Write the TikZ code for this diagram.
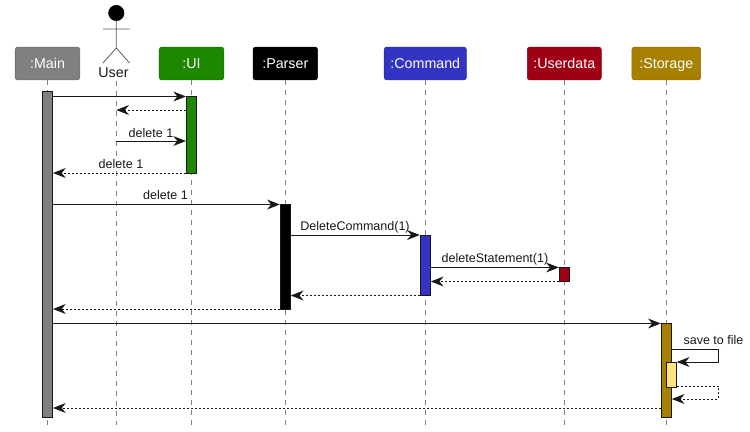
\documentclass[tikz,border=0pt]{standalone}
\usepackage{fontspec}
\setmainfont{Liberation Sans}
\usetikzlibrary{arrows.meta,calc}
\definecolor{cline}{HTML}{181818}
\definecolor{clife}{HTML}{808080}
\definecolor{cmain}{HTML}{808080}
\definecolor{cui}{HTML}{1E8700}
\definecolor{cparser}{HTML}{000000}
\definecolor{ccommand}{HTML}{3333C4}
\definecolor{cuser}{HTML}{A00015}
\definecolor{cstorage}{HTML}{A88000}
\definecolor{cinner}{HTML}{FFE27A}
\tikzset{
  x=0.75pt,y=-0.75pt,
  part/.style={draw=#1!85!black,fill=#1,rounded corners=1.9pt,line width=0.4pt,text=white,minimum height=24.6pt,inner sep=0pt,font=\fontsize{10.7}{12}\selectfont,text height=9pt,text depth=1.6pt},
  lifeline/.style={draw=clife,line width=0.75pt,dash pattern=on 3.75pt off 3.75pt},
  activation/.style={draw=cline,fill=#1,line width=0.75pt,minimum width=7.5pt,inner sep=0pt,anchor=north},
  msg/.style={draw=cline,line width=0.75pt,-{Stealth[length=9.5pt,width=7.4pt,inset=3pt]}},
  reply/.style={msg,dash pattern=on 1.5pt off 1.5pt},
  lab/.style={font=\fontsize{9.4}{11}\selectfont,text=cline,inner sep=0pt,anchor=base},
}
\newcommand{\actbox}[5]{\node[activation=#2,minimum height=#5*0.75pt] (#1) at (#3,#4) {};}
\begin{document}
\begin{tikzpicture}
\useasboundingbox (0,0) rectangle (750,432);
% participants
\node[part=cmain,minimum width=48.4pt] (main) at (47.5,63.5) {:Main};
\node[part=cui,minimum width=48.4pt] (ui) at (191.5,63.5) {:UI};
\node[part=cparser,minimum width=48.4pt] (parser) at (285.3,63.5) {:Parser};
\node[part=ccommand,minimum width=61.6pt] (command) at (425.3,63.5) {:Command};
\node[part=cuser,minimum width=55.5pt] (userdata) at (564.3,63.5) {:Userdata};
\node[part=cstorage,minimum width=51.5pt] (storage) at (666.3,63.5) {:Storage};
% actor
\node[circle,fill=black,draw=black,line width=0.4pt,minimum size=11.6pt,inner sep=0pt] (head) at (116.3,13) {};
\coordinate (hip) at (116.3,48);
\coordinate (armL) at (103,29);
\coordinate (armR) at (129.5,29);
\coordinate (legL) at (103,63);
\coordinate (legR) at (129.5,63);
\draw[draw=clife!70!black,line width=0.6pt] (head.south) -- (hip) -- (legL) (hip) -- (legR) (armL) -- (armR);
\node[font=\fontsize{10.7}{12}\selectfont,text=cline,inner sep=0pt] (user) at (113.5,73) {User};
% lifeline ends
\coordinate (mainEnd) at (47.5,425);
\coordinate (userTop) at (116.3,81);
\coordinate (userEnd) at (116.3,425);
\coordinate (uiEnd) at (191.5,425);
\coordinate (parserEnd) at (285.3,425);
\coordinate (commandEnd) at (425.3,425);
\coordinate (userdataEnd) at (564.3,425);
\coordinate (storageEnd) at (666.3,425);
\draw[lifeline] (main.south) -- (mainEnd);
\draw[lifeline] (userTop) -- (userEnd);
\draw[lifeline] (ui.south) -- (uiEnd);
\draw[lifeline] (parser.south) -- (parserEnd);
\draw[lifeline] (command.south) -- (commandEnd);
\draw[lifeline] (userdata.south) -- (userdataEnd);
\draw[lifeline] (storage.south) -- (storageEnd);
% activations
\actbox{aMain}{cmain}{47.5}{91}{326}
\actbox{aUI}{cui}{191.5}{96}{77}
\actbox{aParser}{cparser}{285.3}{204}{105}
\actbox{aCommand}{ccommand}{425.3}{235}{60}
\actbox{aUserdata}{cuser}{564.3}{267}{14}
\actbox{aStorage}{cstorage}{666.3}{323}{94}
\actbox{aInner}{cinner}{671.3}{362}{25}
% messages
\draw[msg] (aMain.east |- 0,96.5) -- (aUI.west |- 0,96.5);
\draw[reply] (aUI.west |- 0,110) -- (userTop |- 0,110);
\draw[msg] (userTop |- 0,141) -- (aUI.west |- 0,141);
\node[lab] (l1) at (151,137) {delete 1};
\draw[reply] (aUI.west |- 0,173) -- (aMain.east |- 0,173);
\node[lab] (l2) at (121,168) {delete 1};
\draw[msg] (aMain.east |- 0,204.5) -- (aParser.west |- 0,204.5);
\node[lab] (l3) at (165.5,199) {delete 1};
\draw[msg] (aParser.east |- 0,235) -- (aCommand.west |- 0,235);
\node[lab] (l4) at (355,230) {DeleteCommand(1)};
\draw[msg] (aCommand.east |- 0,267.5) -- (aUserdata.west |- 0,267.5);
\node[lab] (l5) at (495,262) {deleteStatement(1)};
\draw[reply] (aUserdata.west |- 0,281.5) -- (aCommand.east |- 0,281.5);
\draw[reply] (aCommand.west |- 0,295.5) -- (aParser.east |- 0,295.5);
\draw[reply] (aParser.west |- 0,309) -- (aMain.east |- 0,309);
\draw[msg] (aMain.east |- 0,323.5) -- (aStorage.west |- 0,323.5);
\coordinate (self1) at (718.5,349);
\coordinate (self2) at (718.5,362);
\draw[msg] (aStorage.east |- 0,349) -- (self1) -- (self2) -- (aInner.east |- 0,362);
\node[lab] (l6) at (713.5,344) {save to file};
\coordinate (self3) at (718.5,386);
\coordinate (self4) at (718.5,399);
\draw[reply] (aInner.east |- 0,386) -- (self3) -- (self4) -- (aStorage.east |- 0,399);
\draw[reply] (aStorage.west |- 0,408) -- (aMain.east |- 0,408);
\end{tikzpicture}
\end{document}
